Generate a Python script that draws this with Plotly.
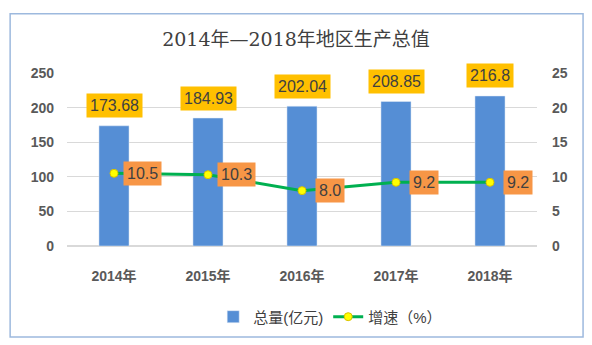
import plotly.graph_objects as go

years = ["2014年", "2015年", "2016年", "2017年", "2018年"]
total = [173.68, 184.93, 202.04, 208.85, 216.8]
growth = [10.5, 10.3, 8.0, 9.2, 9.2]
total_labels = ["173.68", "184.93", "202.04", "208.85", "216.8"]
growth_labels = ["10.5", "10.3", "8.0", "9.2", "9.2"]

fig = go.Figure()
fig.add_trace(go.Bar(x=years, y=total, name="总量(亿元)", marker_color="#558ED5",
                     width=0.32, yaxis="y"))
fig.add_trace(go.Scatter(x=years, y=growth, name="增速（%）", yaxis="y2", mode="lines+markers",
                         line=dict(color="#00B050", width=3),
                         marker=dict(color="#FFFF00", size=8, line=dict(color="#D8C000", width=1))))

anns = []
for x, v, t in zip(years, total, total_labels):
    anns.append(dict(x=x, y=v, xref="x", yref="y", text=t, showarrow=False, yshift=20,
                     bgcolor="#FFC000", borderpad=3,
                     font=dict(family="Liberation Sans, Arial", size=16, color="#404040")))
for x, v, t in zip(years, growth, growth_labels):
    anns.append(dict(x=x, y=v, xref="x", yref="y2", text=t, showarrow=False, xshift=28,
                     bgcolor="#F79646", borderpad=3,
                     font=dict(family="Liberation Sans, Arial", size=16, color="#404040")))

fig.update_layout(
    width=592, height=345,
    margin=dict(l=67, r=55, t=73, b=97),
    paper_bgcolor="white", plot_bgcolor="white",
    title=dict(text="2014年—2018年地区生产总值", x=0.5, xanchor="center", y=0.885, yanchor="middle",
               font=dict(family="DejaVu Serif, Noto Sans CJK SC", size=19, color="#404040")),
    xaxis=dict(showgrid=False, showline=False, ticks="", ticklabelstandoff=20,
               tickfont=dict(family="Liberation Sans, Noto Sans CJK SC", size=14, color="#595959", weight="bold")),
    yaxis=dict(range=[0, 250], dtick=50, showgrid=True, gridcolor="#D9D9D9", zeroline=True,
               zerolinecolor="#D9D9D9", showline=False, ticks="", ticklabelstandoff=12,
               tickfont=dict(family="Liberation Sans", size=14, color="#595959", weight="bold")),
    yaxis2=dict(range=[0, 25], dtick=5, overlaying="y", side="right", showgrid=False,
                zeroline=False, showline=False, ticks="", ticklabelstandoff=14,
                tickfont=dict(family="Liberation Sans", size=14, color="#595959", weight="bold")),
    legend=dict(orientation="h", x=0.56, xanchor="center", y=-0.41, yanchor="middle",
                font=dict(family="Liberation Sans, Noto Sans CJK SC", size=15, color="#404040")),
    showlegend=True,
    annotations=anns,
    shapes=[dict(type="rect", xref="paper", yref="paper", x0=-0.121, x1=1.098, y0=-0.526, y1=1.343,
                 line=dict(color="#9DB9DE", width=1.5), fillcolor="rgba(0,0,0,0)", layer="below")],
)
fig.write_html("out.html")
